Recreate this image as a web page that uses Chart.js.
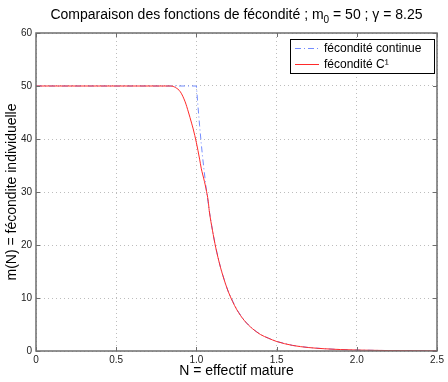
<!DOCTYPE html>
<html>
<head>
<meta charset="utf-8">
<script src="https://cdn.jsdelivr.net/npm/chart.js@4"></script>
<style>
  html, body { margin: 0; padding: 0; background: #fff; }
  #cadre { width: 448px; height: 382px; }
</style>
</head>
<body>
<div id="cadre"><canvas id="myChart"></canvas></div>
<script>
// fécondité continue : m0 jusqu'à N = 1 puis décroissance
const nContinue = [0, 1, 1.01, 1.02, 1.03, 1.04, 1.06, 1.08, 1.1, 1.12, 1.15, 1.18, 1.2, 1.25, 1.3, 1.35, 1.4, 1.45, 1.5, 1.6, 1.7, 1.8, 1.9, 2, 2.2, 2.5];
const mContinue = [50, 50, 46.1, 42.5, 39.2, 36.2, 30.9, 26.5, 22.8, 19.6, 15.8, 12.8, 11.1, 7.9, 5.7, 4.2, 3.1, 2.4, 1.8, 1.05, 0.65, 0.42, 0.27, 0.18, 0.08, 0.03];

// fécondité C1 : raccord lisse
const nC1 = [0, 0.84, 0.87, 0.9, 0.93, 0.95, 0.97, 0.98, 1, 1.02, 1.03, 1.05, 1.06, 1.074, 1.08, 1.1, 1.12, 1.15, 1.18, 1.2, 1.25, 1.3, 1.35, 1.4, 1.45, 1.5, 1.6, 1.7, 1.8, 1.9, 2, 2.2, 2.5];
const mC1 = [50, 50, 49.7, 48.9, 47.0, 45.1, 43.0, 41.9, 39.3, 36.2, 34.5, 32.0, 30.6, 28.2, 26.5, 22.8, 19.6, 15.8, 12.8, 11.1, 7.9, 5.7, 4.2, 3.1, 2.4, 1.8, 1.05, 0.65, 0.42, 0.27, 0.18, 0.08, 0.03];

const ticksX = [0, 0.5, 1, 1.5, 2, 2.5];
const ticksY = [0, 10, 20, 30, 40, 50, 60];

const police = "'Liberation Sans', Arial, Helvetica, sans-serif";

const toPoints = (xs, ys) => xs.map((v, i) => ({ x: v, y: ys[i] }));

// titre avec m indice 0, centré sur la zone du graphe
const titrePlugin = {
    id: 'titre',
    afterDraw(chart) {
        const { ctx, chartArea: a } = chart;
        const morceaux = [
            { t: 'Comparaison des fonctions de fécondité ; m', size: 14, dy: 0 },
            { t: '0', size: 10, dy: 4 },
            { t: ' = 50 ; γ = 8.25', size: 14, dy: 0 }
        ];
        ctx.save();
        ctx.fillStyle = '#000';
        ctx.textBaseline = 'alphabetic';
        let total = 0;
        morceaux.forEach(m => { ctx.font = m.size + 'px ' + police; m.w = ctx.measureText(m.t).width; total += m.w; });
        let x = (a.left + a.right) / 2 - total / 2;
        const base = 19;
        morceaux.forEach(m => {
            ctx.font = m.size + 'px ' + police;
            ctx.fillText(m.t, x, base + m.dy);
            x += m.w;
        });
        ctx.restore();
    }
};

// cadre + petites graduations vers l'intérieur (style matlab)
const cadrePlugin = {
    id: 'cadre',
    afterDatasetsDraw(chart) {
        const { ctx, chartArea: a, scales: { x, y } } = chart;
        ctx.save();
        ctx.strokeStyle = '#6e6e6e';
        ctx.lineWidth = 1;
        ctx.beginPath();
        ticksX.forEach(v => {
            const px = Math.round(x.getPixelForValue(v)) + 0.5;
            ctx.moveTo(px, a.bottom); ctx.lineTo(px, a.bottom - 4);
            ctx.moveTo(px, a.top); ctx.lineTo(px, a.top + 4);
        });
        ticksY.forEach(v => {
            const py = Math.round(y.getPixelForValue(v)) + 0.5;
            ctx.moveTo(a.left, py); ctx.lineTo(a.left + 4, py);
            ctx.moveTo(a.right, py); ctx.lineTo(a.right - 4, py);
        });
        ctx.stroke();
        ctx.lineWidth = 1.5;
        ctx.strokeRect(a.left, a.top, a.right - a.left, a.bottom - a.top);
        ctx.restore();
    }
};

// légende dans le coin haut droit
const legendePlugin = {
    id: 'legende',
    afterDraw(chart) {
        const { ctx, chartArea: a } = chart;
        const w = 144, h = 34;
        const bx = a.right - 3 - w, by = a.top + 6;
        ctx.save();
        ctx.fillStyle = '#fff';
        ctx.fillRect(bx, by, w, h);
        ctx.strokeStyle = '#000';
        ctx.lineWidth = 1;
        ctx.strokeRect(bx + 0.5, by + 0.5, w, h);
        ctx.font = '12px ' + police;
        ctx.textBaseline = 'middle';
        chart.data.datasets.forEach((ds, i) => {
            const ly = by + 9.5 + i * 16;
            ctx.strokeStyle = ds.borderColor;
            ctx.lineWidth = ds.borderWidth;
            ctx.setLineDash(ds.borderDash || []);
            ctx.beginPath();
            ctx.moveTo(bx + 5, ly);
            ctx.lineTo(bx + 29, ly);
            ctx.stroke();
            ctx.setLineDash([]);
            ctx.fillStyle = '#000';
            ctx.fillText(ds.label, bx + 34, ly + 0.5);
        });
        ctx.restore();
    }
};

const ctx = document.getElementById('myChart').getContext('2d');

new Chart(ctx, {
    type: 'scatter',
    data: {
        datasets: [{
            label: 'fécondité continue',
            data: toPoints(nContinue, mContinue),
            showLine: true,
            borderColor: 'rgba(90, 120, 255, 0.85)',
            borderWidth: 1,
            borderDash: [6, 3, 1, 3],
            pointRadius: 0,
            order: 2
        }, {
            label: 'fécondité C¹',
            data: toPoints(nC1, mC1),
            showLine: true,
            borderColor: '#ff2a2a',
            borderWidth: 1,
            pointRadius: 0,
            cubicInterpolationMode: 'monotone',
            order: 1
        }]
    },
    options: {
        responsive: true,
        maintainAspectRatio: false,
        animation: false,
        layout: { padding: { top: 33, right: 11, left: 0, bottom: 0 } },
        plugins: {
            legend: { display: false },
            tooltip: { enabled: false },
            title: { display: false }
        },
        scales: {
            x: {
                type: 'linear',
                min: 0,
                max: 2.5,
                afterBuildTicks: s => { s.ticks = ticksX.map(v => ({ value: v })); },
                afterFit: s => { s.height = 31; },
                grid: { color: '#bdbdbd', drawTicks: false },
                border: { display: false, dash: [1, 3] },
                ticks: { color: '#222', font: { family: police, size: 10 }, padding: 3, maxRotation: 0 },
                title: {
                    display: true,
                    text: 'N = effectif mature',
                    color: '#000',
                    font: { family: police, size: 14, lineHeight: 1.2 },
                    padding: { top: 0, bottom: 2.6 }
                }
            },
            y: {
                type: 'linear',
                min: 0,
                max: 60,
                afterBuildTicks: s => { s.ticks = ticksY.map(v => ({ value: v })); },
                afterFit: s => { s.width = 36; },
                grid: { color: '#bdbdbd', drawTicks: false },
                border: { display: false, dash: [1, 3] },
                ticks: { color: '#222', font: { family: police, size: 10 }, padding: 4 },
                title: {
                    display: true,
                    text: 'm(N) = fécondite individuelle',
                    color: '#000',
                    font: { family: police, size: 14, lineHeight: 1.2 },
                    padding: { top: 4, bottom: 0 }
                }
            }
        }
    },
    plugins: [cadrePlugin, legendePlugin, titrePlugin]
});
</script>
</body>
</html>
